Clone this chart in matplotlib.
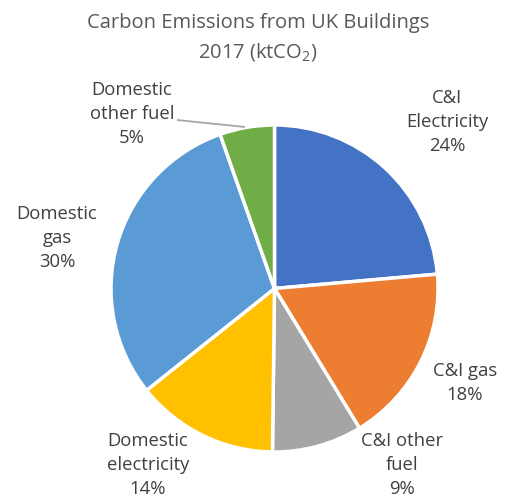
import matplotlib
matplotlib.use('Agg')
import matplotlib.pyplot as plt

plt.rcParams['font.family'] = ['Open Sans', 'DejaVu Sans']
plt.rcParams['mathtext.fontset'] = 'custom'
plt.rcParams['mathtext.rm'] = 'Open Sans'
plt.rcParams['mathtext.it'] = 'Open Sans'

# data (share of emissions, %)
categories = ['C&I\nElectricity', 'C&I gas', 'C&I other\nfuel',
              'Domestic\nelectricity', 'Domestic\ngas', 'Domestic\nother fuel']
values = [23.6, 17.7, 8.9, 14.1, 30.3, 5.4]
colors = ['#4472C4', '#ED7D31', '#A5A5A5', '#FFC000', '#5B9BD5', '#70AD47']

W, H = 515, 501
fig = plt.figure(figsize=(W / 100, H / 100), dpi=100)
ax = fig.add_axes([0, 0, 1, 1])

# pixel layout (y measured from top of image)
cx, cy, r = 274.5, 288.5, 163.5
ax.pie(values, colors=colors, startangle=90, counterclock=False,
       center=(cx, H - cy), radius=r,
       wedgeprops=dict(edgecolor='white', linewidth=2.5))
ax.set_xlim(0, W)
ax.set_ylim(0, H)
ax.set_aspect('equal')
ax.axis('off')

# label positions (centre of each text block, pixels from top-left)
label_pos = [(447, 122), (465, 383), (402, 465), (148, 465), (57, 238), (132, 114)]
total = sum(values)
for lab, v, (lx, ly) in zip(categories, values, label_pos):
    ax.text(lx, H - ly, u'{}\n{:.0f}%'.format(lab, v / total * 100),
            ha='center', va='center', fontsize=13.3, color='#404040',
            linespacing=1.4)

# leader line for the small slice
ax.plot([177, 245], [H - 120, H - 127], color='#A6A6A6', lw=1.3,
        solid_capstyle='butt')

ax.text(258, H - 38, u'Carbon Emissions from UK Buildings\n2017 (ktCO$_2$)',
        ha='center', va='center', fontsize=14.5, color='#595959',
        linespacing=1.45)

plt.savefig('out.png', dpi=100, facecolor='white')
